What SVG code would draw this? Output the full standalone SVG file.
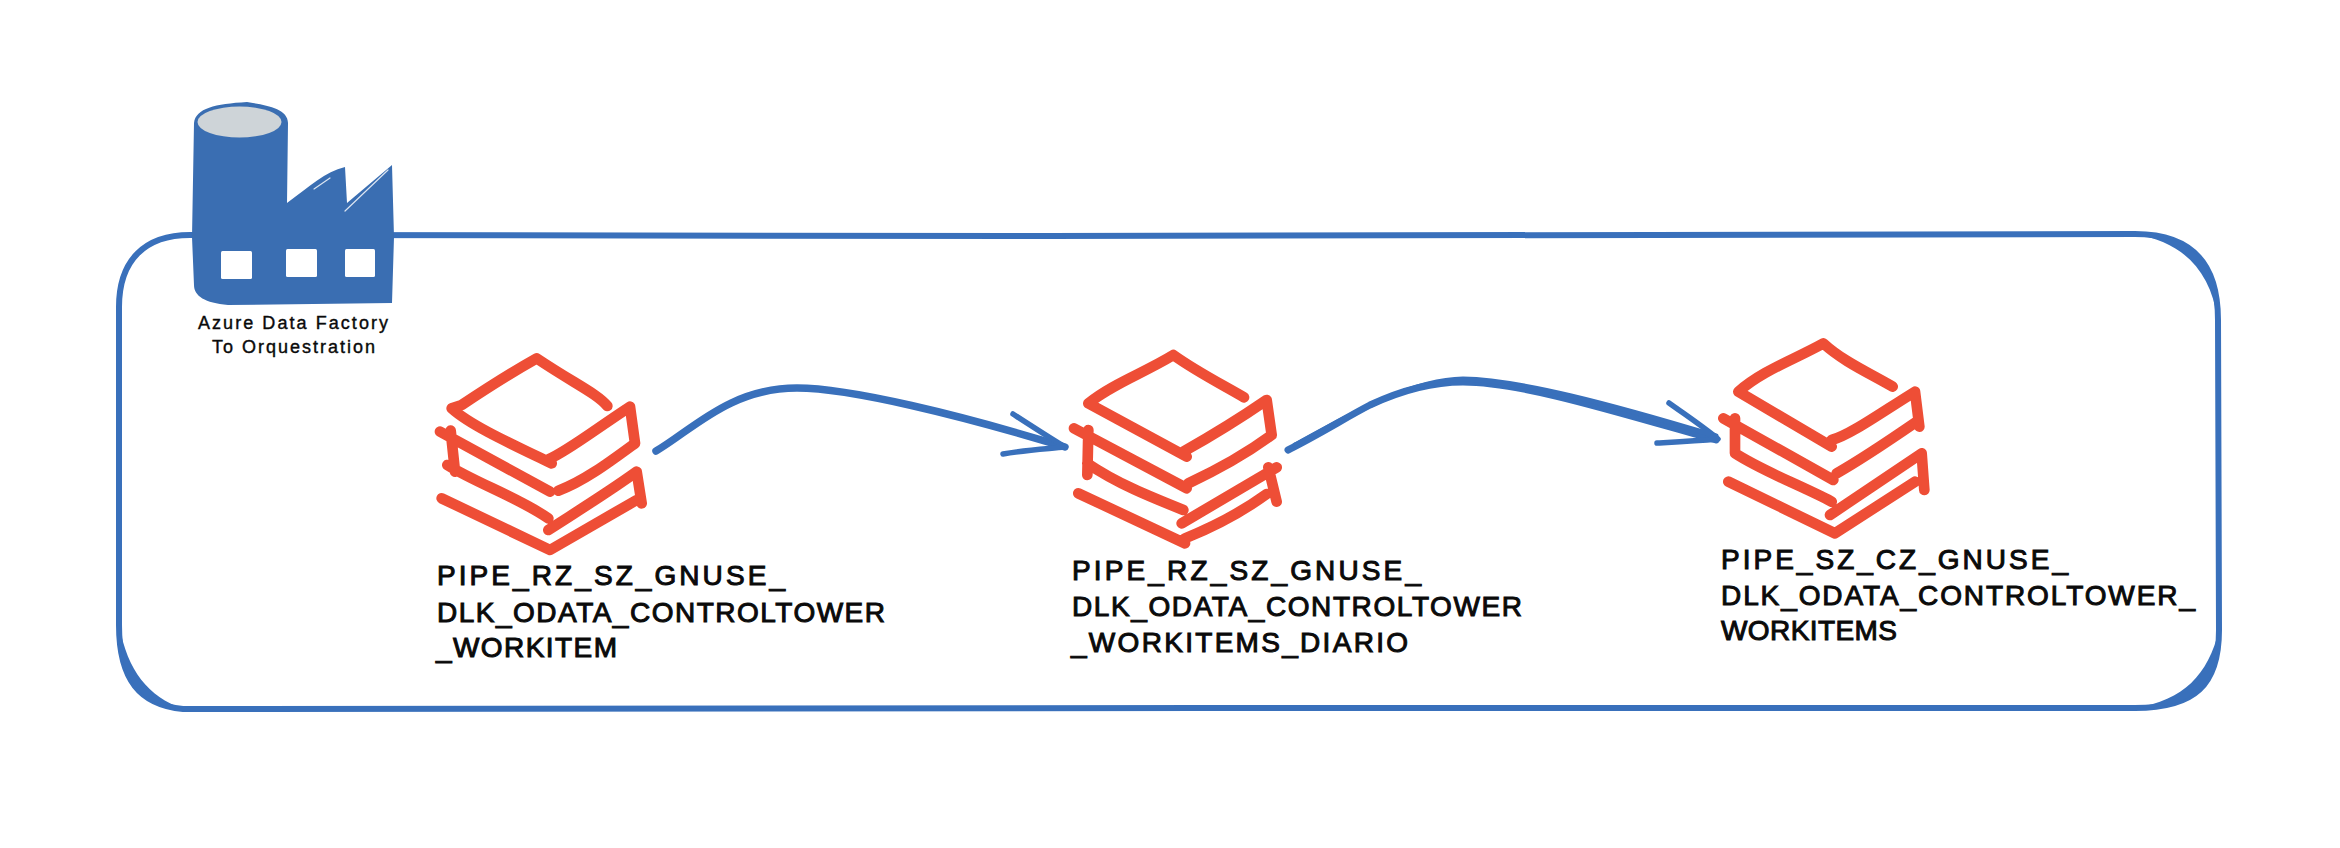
<svg xmlns="http://www.w3.org/2000/svg" width="2340" height="848" viewBox="0 0 2340 848">
<style>
.bg{fill:#fff}
.box{fill:none;stroke:#3970bb;stroke-width:6;stroke-linecap:round;stroke-linejoin:round}
.crescent{fill:#3970bb}
.layer{fill:none;stroke:#ee4e36;stroke-width:32;stroke-linecap:round;stroke-linejoin:round}
.edge{fill:none;stroke:#3970bb;stroke-linecap:round;stroke-linejoin:round}
.t{font-family:"Liberation Sans",Arial,sans-serif;fill:#0a0a0a;stroke:#0a0a0a;stroke-width:1}
.pipe{font-size:28px}
.adf{font-size:18px;stroke-width:.4}
.glint{fill:none;stroke:#dbe5f2;stroke-width:1.200;stroke-linecap:round}
</style>
<rect class="bg" width="2340" height="848"/>
<g id="container">
<path class="box" d="M190,235 L1050,236 L2135,234 C2190,234 2218,262 2218,320 L2219,630 C2219,685 2195,708 2135,708 L1200,708 L183,709 C140,705 119,680 119,625 L119,307 C119,260 145,235 190,235 Z"/>
<path class="crescent" d="M2135,234 C2190,234 2218,262 2218,320 C2210,270 2184,243 2135,234 Z M2219,630 C2219,685 2195,708 2135,708 C2184,700 2208,675 2219,630 Z M119,625 C119,680 140,705 183,709 C148,696 128,672 119,625 Z"/>
</g>
<g id="connectors">
<path class="edge" stroke-width="7.500" d="M656,451 C692,430 730,388 797,388 C850,388 960,415 1065,447"/>
<path class="edge" stroke-width="5.500" d="M1013,414 C1030,425 1050,438 1065,447 C1045,449 1025,450 1003,454"/>
<path class="edge" stroke-width="7" d="M1288,450 C1320,434 1345,418 1370,405 C1400,391 1430,382 1463,382 C1520,382 1610,410 1716,440"/>
<path class="edge" stroke-width="5" d="M1295,445 C1350,415 1410,380 1463,379 C1520,380 1610,404 1716,436"/>
<path class="edge" stroke-width="5.500" d="M1669,403 C1690,418 1705,428 1718,439 C1695,441 1675,442 1657,443"/>
</g>
<g id="factory">
<path fill="#3a6eb2" d="M194,123 C196,108 215,104 247,102 C265,105 288,108 288,123 L287,203 C310,186 325,172 345,167 L347,203 L392,165 L394,237 L392,303 L228,305 C205,303 194,296 194,285 L192,237 Z"/>
<ellipse cx="239.500" cy="122" rx="42" ry="15.500" fill="#ced4d8"/>
<rect x="221" y="251" width="31" height="28" rx="1.500" fill="#fff"/>
<rect x="286" y="249" width="31" height="28" rx="1.500" fill="#fff"/>
<rect x="345" y="249" width="30" height="28" rx="1.500" fill="#fff"/>
<path class="glint" d="M314,189 L330,178 M345,211 L388,170"/>
<text class="t adf" x="198" y="329" textLength="190" lengthAdjust="spacing">Azure Data Factory</text>
<text class="t adf" x="212" y="353" textLength="163" lengthAdjust="spacing">To Orquestration</text>
</g>
<g id="node1">
<g transform="translate(420,340) scale(.33333)">
<path class="layer" d="M562,198 C530,160 470,135 350,55 C270,100 200,145 125,195 L95,205 C150,255 270,310 395,370 M385,358 C440,335 530,265 630,200 L645,310 C570,365 490,425 415,452 M60,275 L390,455 M92,272 L105,395 M82,375 C170,430 290,470 385,535 M385,570 C470,515 560,460 650,395 L665,490 M650,480 L390,630 L65,475"/>
</g>
<text class="t pipe" x="437" y="585" textLength="348" lengthAdjust="spacing">PIPE_RZ_SZ_GNUSE_</text>
<text class="t pipe" x="437" y="622" textLength="448" lengthAdjust="spacing">DLK_ODATA_CONTROLTOWER</text>
<text class="t pipe" x="436" y="657" textLength="181" lengthAdjust="spacing">_WORKITEM</text>
</g>
<g id="node2">
<g transform="translate(1050,340) scale(.33333)">
<path class="layer" d="M582,172 C510,130 440,95 370,45 C280,100 190,130 115,190 L410,350 M400,335 C480,290 570,235 650,180 L665,285 C590,340 490,395 415,430 M72,265 L410,445 M115,270 L112,405 M112,370 C200,430 300,470 400,510 M395,550 L680,382 M655,382 L680,485 M650,462 C570,520 480,565 405,595 M405,610 L85,460"/>
</g>
<text class="t pipe" x="1072" y="580" textLength="349" lengthAdjust="spacing">PIPE_RZ_SZ_GNUSE_</text>
<text class="t pipe" x="1072" y="616" textLength="450" lengthAdjust="spacing">DLK_ODATA_CONTROLTOWER</text>
<text class="t pipe" x="1071" y="652" textLength="337" lengthAdjust="spacing">_WORKITEMS_DIARIO</text>
</g>
<g id="node3">
<g transform="translate(1700,330) scale(.33333)">
<path class="layer" d="M578,170 C510,130 430,95 370,40 C280,90 190,120 115,185 L395,350 M395,330 C450,315 540,250 645,185 L658,290 M650,275 C570,330 490,385 410,430 M70,265 L400,450 M105,265 L105,370 C190,425 300,465 395,515 M390,555 L665,370 L673,480 M645,455 L405,610 L85,455"/>
</g>
<text class="t pipe" x="1721" y="569" textLength="347" lengthAdjust="spacing">PIPE_SZ_CZ_GNUSE_</text>
<text class="t pipe" x="1721" y="605" textLength="474" lengthAdjust="spacing">DLK_ODATA_CONTROLTOWER_</text>
<text class="t pipe" x="1721" y="640" textLength="176" lengthAdjust="spacing">WORKITEMS</text>
</g>
</svg>
